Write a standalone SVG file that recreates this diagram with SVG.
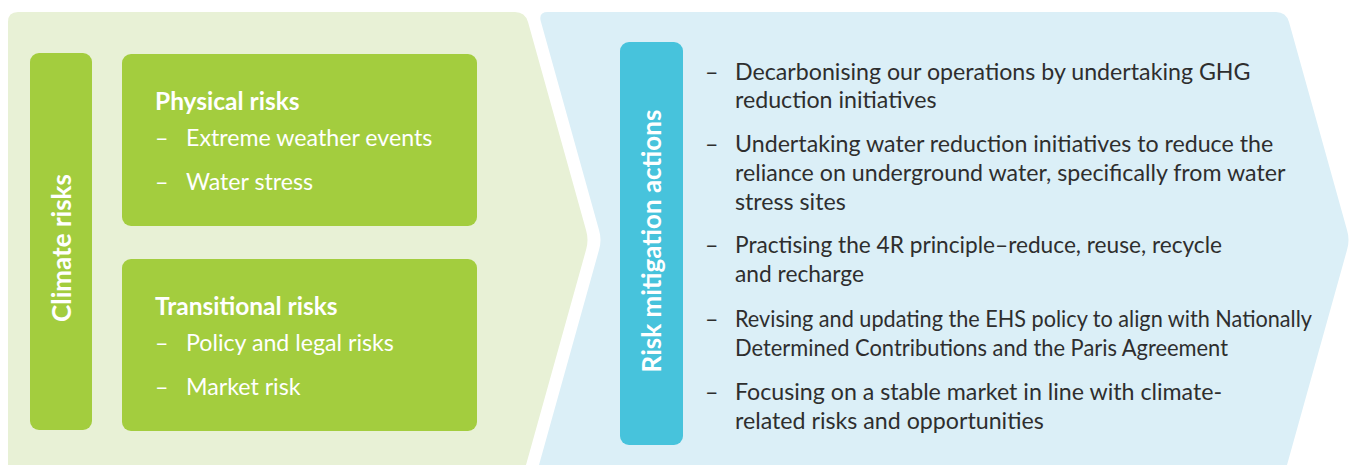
<svg xmlns="http://www.w3.org/2000/svg" width="1354" height="465" viewBox="0 0 1354 465">
  <style>
    .t { font-family: Lato, "Open Sans", "Liberation Sans", sans-serif; }
    .w { fill: #ffffff; }
    .b { font-weight: 700; }
    .item { font-size: 23.2px; }
    .d { fill: #2e2e2e; font-size: 23.2px; }
    .title { font-size: 24.5px; }
    .vt { font-size: 26px; }
    .box { fill: #a3cd3e; }
  </style>
  <rect width="1354" height="465" fill="#ffffff"/>
  <g id="left-panel">
    <path d="M8,22 Q8,12 18,12 L515,12 Q525,12 528,22 L586,230 Q589,240 586,250 L526,465 L8,465 Z" fill="#e8f1d6"/>
  </g>
  <g id="right-panel">
    <path d="M541,22 Q538,12 548,12 L1276,12 Q1286,12 1289,22 L1347,230 Q1350,240 1347,250 L1287,465 L539,465 L599,250 Q602,240 599,230 Z" fill="#dbeff7"/>
  </g>
  <g id="climate-risks">
    <rect x="30" y="53" width="62" height="377" rx="9" class="box"/>
    <text class="t w b vt" transform="translate(71,248) rotate(-90)" text-anchor="middle">Climate risks</text>
  </g>
  <g id="physical-risks">
    <rect x="122" y="54" width="355" height="172" rx="9" class="box"/>
    <text class="t w b title" x="155" y="110">Physical risks</text>
    <text class="t w item" x="155" y="146">–</text>
    <text class="t w item" x="186" y="146">Extreme weather events</text>
    <text class="t w item" x="155" y="190">–</text>
    <text class="t w item" x="186" y="190">Water stress</text>
  </g>
  <g id="transitional-risks">
    <rect x="122" y="259" width="355" height="172" rx="9" class="box"/>
    <text class="t w b title" x="155" y="315">Transitional risks</text>
    <text class="t w item" x="155" y="351">–</text>
    <text class="t w item" x="186" y="351">Policy and legal risks</text>
    <text class="t w item" x="155" y="395">–</text>
    <text class="t w item" x="186" y="395">Market risk</text>
  </g>
  <g id="risk-mitigation">
    <rect x="620" y="42" width="63" height="403" rx="9" fill="#47c3dc"/>
    <text class="t w b vt" transform="translate(661,241) rotate(-90)" text-anchor="middle">Risk mitigation actions</text>
  </g>
  <g id="actions">
    <text class="t d" x="705" y="80">–</text>
    <text class="t d" x="735" y="80">Decarbonising our operations by undertaking GHG</text>
    <text class="t d" x="735" y="108">reduction initiatives</text>
    <text class="t d" x="705" y="152">–</text>
    <text class="t d" x="735" y="152">Undertaking water reduction initiatives to reduce the</text>
    <text class="t d" x="735" y="181">reliance on underground water, specifically from water</text>
    <text class="t d" x="735" y="210">stress sites</text>
    <text class="t d" x="705" y="253">–</text>
    <text class="t d" x="735" y="253" textLength="487" lengthAdjust="spacingAndGlyphs">Practising the 4R principle–reduce, reuse, recycle</text>
    <text class="t d" x="735" y="282" textLength="129" lengthAdjust="spacingAndGlyphs">and recharge</text>
    <text class="t d" x="705" y="327">–</text>
    <text class="t d" x="735" y="327" textLength="577" lengthAdjust="spacingAndGlyphs">Revising and updating the EHS policy to align with Nationally</text>
    <text class="t d" x="735" y="356" textLength="493" lengthAdjust="spacingAndGlyphs">Determined Contributions and the Paris Agreement</text>
    <text class="t d" x="705" y="400">–</text>
    <text class="t d" x="735" y="400">Focusing on a stable market in line with climate-</text>
    <text class="t d" x="735" y="429">related risks and opportunities</text>
  </g>
  <g id="connectors"/>
</svg>
